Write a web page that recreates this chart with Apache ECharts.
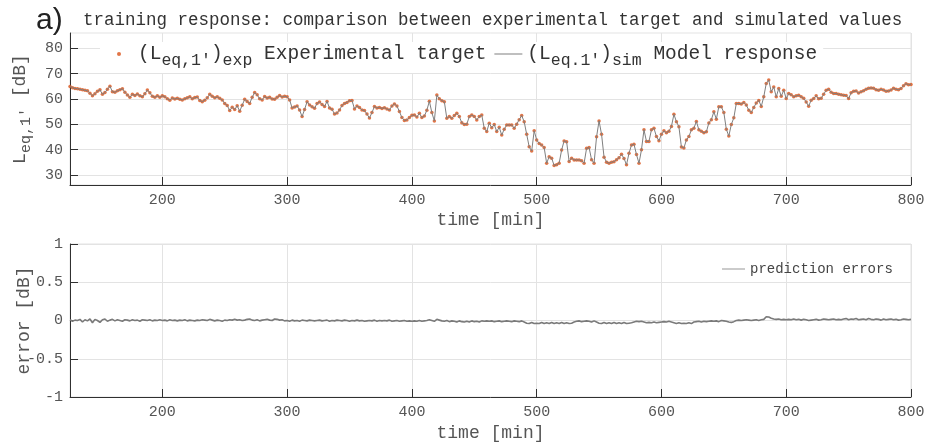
<!DOCTYPE html>
<html>
<head>
<meta charset="utf-8">
<script src="https://cdn.jsdelivr.net/npm/echarts@6/dist/echarts.min.js"></script>
<style>
  html, body { margin: 0; padding: 0; background: #fff; }
  #main { width: 940px; height: 448px; }
</style>
</head>
<body>
<div id="main"></div>
<script>
// sampling grid of the record (minutes)
var tStart = 126;
var tStep = 2;

// L_eq,1' experimental target [dB], one value every 2 min from 126 to 800
var levelExp = [
  64.9, 64.4, 64.1, 64.0, 63.8, 63.6, 63.4, 63.2, 62.2, 61.2,
  62.0, 63.0, 63.6, 61.8, 62.5, 63.8, 65.0, 62.8, 62.6, 63.2,
  63.6, 64.0, 62.6, 61.5, 60.6, 61.8, 61.3, 61.9, 61.2, 60.8,
  62.0, 63.5, 62.4, 61.0, 60.6, 61.2, 60.6, 61.2,
  60.8, 60.0, 59.5, 60.3, 59.9, 60.2, 59.8, 59.6, 60.0, 60.4,
  60.8, 60.0, 60.5, 60.7, 59.4, 58.9, 59.5, 60.4, 61.8, 61.0,
  60.4, 60.8, 60.2, 59.6, 58.2, 57.4, 55.4, 56.7, 55.8, 57.3,
  55.1, 57.5, 59.8, 59.0, 58.2, 60.6, 62.5, 61.6, 60.0, 59.6,
  60.9, 60.3, 60.6, 59.9, 59.8, 60.6, 61.3, 60.7, 61.0, 60.8,
  59.6, 56.4, 56.8, 57.2, 55.6, 53.0, 55.8, 58.9, 57.6, 56.9,
  56.3, 58.2, 58.8, 57.8, 57.0, 59.0, 56.4, 55.9, 54.0, 54.4,
  55.6, 57.4, 58.2, 58.6, 59.3, 59.4, 56.0, 57.2, 56.6, 55.6,
  55.4, 54.0, 52.4, 54.6, 57.0, 56.4, 56.6, 56.2, 56.5, 56.0,
  55.6, 57.2, 58.0, 57.2, 55.0, 52.6, 51.5, 51.7, 52.6, 53.5,
  53.6, 52.8, 54.3, 52.6, 53.2, 55.5, 59.1, 54.6, 51.3, 61.5,
  60.0, 59.3, 58.9, 52.3, 53.0, 52.3, 53.4, 54.3, 53.0, 50.6,
  49.9, 50.0, 53.0, 53.6, 53.0, 51.7, 53.0, 53.6, 48.4, 47.1,
  50.4, 48.6, 49.9, 47.1, 48.8, 45.7, 48.0, 49.7, 49.7, 49.7,
  48.4, 50.0, 51.8, 53.4, 51.0, 46.0, 41.1, 39.4, 47.4, 43.8,
  42.4, 41.8, 40.8, 34.6, 37.2, 36.6, 33.7, 34.0, 34.6, 39.8,
  43.4, 43.1, 35.3, 36.6, 35.9, 35.9, 35.9, 35.6, 34.6, 40.5,
  40.8, 36.0, 34.6, 45.0, 51.3, 46.0, 37.0, 35.0, 34.6, 35.0,
  35.2, 36.0, 36.8, 38.1, 36.5, 34.0, 38.5, 41.8, 42.1, 38.0,
  34.6, 39.9, 47.8, 43.2, 43.2, 47.8, 48.4, 45.1, 43.5, 46.0,
  47.4, 46.6, 47.2, 49.1, 53.9, 51.0, 49.0, 41.0, 40.6, 43.8,
  45.1, 47.8, 48.4, 51.1, 47.8, 47.2, 46.6, 47.0, 50.5, 51.8,
  54.9, 52.0, 56.9, 56.9, 54.6, 48.0, 45.3, 49.9, 52.5, 58.2,
  58.2, 58.0, 58.6, 57.6, 55.5, 54.6, 56.6, 58.4, 59.4, 57.0,
  60.8, 66.1, 67.4, 62.8, 64.7, 60.8, 64.1, 61.0, 63.4, 60.1,
  62.1, 61.6, 60.8, 61.2, 61.4, 60.8, 60.2, 58.8, 57.1, 59.5,
  60.1, 61.2, 60.0, 60.2, 61.8, 63.4, 63.8, 62.6, 62.1, 62.1,
  61.8, 61.6, 61.4, 61.3, 60.1, 62.4, 63.0, 63.1, 62.3, 62.8,
  63.2, 63.8, 64.2, 64.3, 64.2, 63.6, 63.4, 63.8, 63.5, 63.0,
  63.1, 63.5, 64.2, 63.8, 63.6, 64.1, 65.2, 66.0, 65.6, 65.7
];

// model response differs from the target by less than 0.05 dB (below pixel size),
// so the same read-off values are drawn for it
var levelSim = levelExp;

// prediction errors [dB], same time grid
var predError = [
  0.01, -0.01, 0.005, 0.0, 0.015, -0.02, 0.01, -0.005, 0.02, -0.03,
  0.015, 0.0, -0.025, 0.01, 0.02, -0.01, 0.005, 0.015, -0.005, 0.01,
  0.0, -0.01, 0.01, 0.005, -0.005, 0.01, 0.0, 0.005, -0.01, 0.01,
  0.005, 0.0, 0.01, -0.005, 0.005, 0.0, 0.01, 0.0,
  0.005, -0.005, 0.01, 0.0, 0.005, -0.005, 0.005, 0.0, 0.01, -0.005,
  0.005, 0.0, -0.005, 0.005, 0.0, 0.01, 0.005, 0.0, 0.015, 0.005,
  -0.005, 0.005, 0.0, -0.01, 0.005, 0.0, 0.01, 0.005, 0.015, 0.005,
  0.01, 0.0, 0.005, 0.015, 0.02, 0.005, 0.0, 0.01, -0.005, 0.005,
  0.01, 0.015, 0.005, 0.0, 0.02, 0.015, 0.005, 0.01, -0.005, 0.0,
  -0.01, 0.005, -0.005, 0.0, -0.01, 0.005, 0.0, -0.005, 0.005, 0.0,
  -0.005, 0.0, 0.005, -0.005, 0.0, 0.005, -0.01, 0.0, -0.005, 0.005,
  0.0, -0.005, 0.005, 0.0, -0.01, 0.0, -0.005, 0.005, -0.005, 0.0,
  -0.01, -0.005, 0.0, -0.005, 0.005, -0.01, 0.0, -0.005, 0.0, -0.005,
  0.005, -0.01, -0.005, 0.0, -0.01, -0.005, 0.0, -0.01, -0.005, -0.01,
  -0.005, -0.01, 0.0, -0.01, -0.005, 0.0, 0.01, 0.0, -0.01, 0.015,
  0.005, -0.005, -0.01, 0.0, -0.015, -0.005, -0.01, -0.02, -0.005, -0.015,
  -0.02, -0.01, -0.02, -0.005, -0.015, -0.01, -0.02, -0.005, -0.01, -0.005,
  -0.01, -0.005, -0.015, -0.01, -0.005, -0.015, -0.01, -0.005, -0.01, -0.015,
  -0.005, -0.01, -0.015, -0.005, -0.02, -0.035, -0.04, -0.025, -0.04, -0.035,
  -0.04, -0.025, -0.04, -0.03, -0.04, -0.025, -0.04, -0.03, -0.04, -0.025,
  -0.04, -0.03, -0.04, -0.035, -0.02, -0.01, -0.005, -0.015, -0.01, -0.005,
  -0.01, -0.02, -0.005, -0.02, -0.035, -0.04, -0.025, -0.04, -0.03, -0.04,
  -0.025, -0.04, -0.03, -0.04, -0.025, -0.04, -0.035, -0.03, -0.02, -0.01,
  -0.015, -0.01, -0.02, -0.03, -0.025, -0.03, -0.02, -0.03, -0.025, -0.02,
  -0.015, -0.02, -0.01, -0.02, -0.03, -0.04, -0.03, -0.04, -0.035, -0.04,
  -0.03, -0.04, -0.02, -0.015, -0.01, -0.02, -0.01, -0.015, -0.01, -0.005,
  -0.01, -0.005, -0.015, 0.0, -0.005, -0.01, -0.02, -0.025, -0.015, 0.0,
  0.005, 0.0, 0.005, 0.01, 0.005, 0.0, 0.005, 0.01, 0.0, 0.01,
  0.015, 0.05, 0.045, 0.03, 0.02, 0.015, 0.02, 0.01, 0.015, 0.01,
  0.015, 0.01, 0.02, 0.01, 0.015, 0.005, 0.015, 0.01, 0.0, 0.005,
  0.01, 0.015, 0.005, 0.01, 0.02, 0.015, 0.01, 0.015, 0.02, 0.01,
  0.015, 0.01, 0.02, 0.025, 0.01, 0.02, 0.015, 0.025, 0.01, 0.015,
  0.02, 0.01, 0.025, 0.015, 0.01, 0.02, 0.015, 0.005, 0.02, 0.01,
  0.015, 0.02, 0.01, 0.015, 0.005, 0.01, 0.02, 0.015, 0.01, 0.015
];

// tick labels
var timeTicks = [200, 300, 400, 500, 600, 700, 800];
var levelTicks = [30, 40, 50, 60, 70, 80];

var mono = "'Liberation Mono', 'DejaVu Sans Mono', monospace";
var axisDark = "#303030";
var gridGray = "#e3e3e3";
var labelGray = "#555";
// thin bar used as a plain line legend icon
var lineIcon = "path://M0,0H28V1H0Z";

function pairs(arr) {
  return arr.map(function (v, i) { return [tStart + i * tStep, v]; });
}

function timeAxis(gridIndex, nameGap) {
  return {
    type: "value",
    gridIndex: gridIndex,
    min: 126,
    max: 800,
    name: "time [min]",
    nameLocation: "middle",
    nameGap: nameGap,
    nameTextStyle: { fontFamily: mono, fontSize: 18, color: labelGray },
    axisLine: { onZero: false, lineStyle: { color: axisDark } },
    axisTick: { inside: true, length: 8, customValues: timeTicks, lineStyle: { color: axisDark } },
    axisLabel: { customValues: timeTicks, fontFamily: mono, fontSize: 15, color: labelGray, margin: 8 },
    splitLine: { show: true, lineStyle: { color: gridGray } }
  };
}

var legendRich = {
  m: { fontFamily: mono, fontSize: 19.5, color: "#333" },
  s: { fontFamily: mono, fontSize: 16.5, color: "#333", padding: [13, 0, 0, 0] }
};

var chart = echarts.init(document.getElementById("main"));
chart.setOption({
  animation: false,
  backgroundColor: "#fff",
  title: [
    {
      text: "a)",
      left: 31,
      top: 1,
      textStyle: { fontFamily: "'Liberation Sans', Arial, sans-serif", fontSize: 30, fontWeight: "normal", color: "#222" }
    },
    {
      text: "training response: comparison between experimental target and simulated values",
      left: 78,
      top: 6,
      textStyle: { fontFamily: mono, fontSize: 17.5, fontWeight: "normal", color: "#333" }
    }
  ],
  grid: [
    { left: 70, right: 29, top: 33, height: 152, show: true, borderColor: gridGray, borderWidth: 1, outerBoundsMode: "none" },
    { left: 70, right: 29, top: 244, height: 153, show: true, borderColor: gridGray, borderWidth: 1, outerBoundsMode: "none" }
  ],
  legend: [
    {
      data: [
        { name: "exp" },
        { name: "sim", icon: lineIcon }
      ],
      left: 100,
      top: 42,
      padding: [2, 6, 4, 17],
      backgroundColor: "#fff",
      itemWidth: 28,
      itemHeight: 4,
      itemGap: 8,
      formatter: function (name) {
        if (name === "exp") return "{m|(L}{s|eq,1'}{m|)}{s|exp}{m| Experimental target}";
        return "{m|(L}{s|eq.1'}{m|)}{s|sim}{m| Model response}";
      },
      textStyle: { fontFamily: mono, fontSize: 19.5, color: "#333", rich: legendRich }
    },
    {
      data: [{ name: "err", icon: lineIcon }],
      left: 722,
      top: 262,
      padding: 0,
      itemWidth: 23,
      itemHeight: 4,
      formatter: function () { return "prediction errors"; },
      textStyle: { fontFamily: mono, fontSize: 14, color: "#444" }
    }
  ],
  xAxis: [timeAxis(0, 26), timeAxis(1, 27)],
  yAxis: [
    {
      type: "value",
      gridIndex: 0,
      min: 26,
      max: 86,
      name: "{m|L}{s|eq,1'}{m| [dB]}",
      nameLocation: "middle",
      nameRotate: 90,
      nameGap: 36,
      nameMoveOverlap: false,
      nameTextStyle: {
        rich: {
          m: { fontFamily: mono, fontSize: 18, color: labelGray },
          s: { fontFamily: mono, fontSize: 15, color: labelGray, padding: [12, 0, 0, 0] }
        }
      },
      axisLine: { show: true, onZero: false, lineStyle: { color: axisDark } },
      axisTick: { show: true, inside: true, length: 8, customValues: levelTicks, lineStyle: { color: axisDark } },
      axisLabel: { customValues: levelTicks, fontFamily: mono, fontSize: 15, color: labelGray, margin: 7 },
      splitLine: { show: true, lineStyle: { color: gridGray } }
    },
    {
      type: "value",
      gridIndex: 1,
      min: -1,
      max: 1,
      interval: 0.5,
      name: "error [dB]",
      nameLocation: "middle",
      nameRotate: 90,
      nameGap: 37,
      nameMoveOverlap: false,
      nameTextStyle: { fontFamily: mono, fontSize: 18, color: labelGray },
      axisLine: { show: true, onZero: false, lineStyle: { color: axisDark } },
      axisTick: { show: true, inside: true, length: 8, lineStyle: { color: axisDark } },
      axisLabel: { fontFamily: mono, fontSize: 15, color: labelGray, margin: 7 },
      splitLine: { show: true, lineStyle: { color: gridGray } }
    }
  ],
  series: [
    {
      name: "exp",
      type: "scatter",
      xAxisIndex: 0,
      yAxisIndex: 0,
      symbolSize: 3.5,
      itemStyle: { color: "#d95319" },
      data: pairs(levelExp)
    },
    {
      name: "sim",
      type: "line",
      xAxisIndex: 0,
      yAxisIndex: 0,
      symbol: "none",
      color: "#7f7f7f",
      lineStyle: { color: "#7f7f7f", width: 1 },
      data: pairs(levelSim)
    },
    {
      name: "err",
      type: "line",
      xAxisIndex: 1,
      yAxisIndex: 1,
      symbol: "none",
      color: "#808080",
      lineStyle: { color: "#7a7a7a", width: 1.6 },
      data: pairs(predError)
    }
  ]
});
</script>
</body>
</html>
